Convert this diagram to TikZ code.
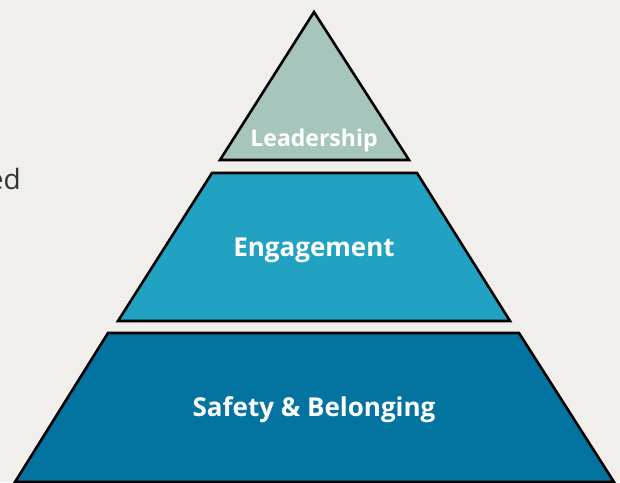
\documentclass[tikz,border=0pt]{standalone}
\usepackage{fontspec}
\setmainfont{Open Sans}
\definecolor{bg}{HTML}{F0EFEC}
\definecolor{topfill}{HTML}{A5C5BD}
\definecolor{midfill}{HTML}{22A2C3}
\definecolor{basefill}{HTML}{03739F}
\definecolor{sidetext}{HTML}{333333}
\begin{document}
\begin{tikzpicture}[x=1pt,y=-1pt,
  tier/.style={draw=black,line width=2.6pt,line join=miter},
  tierlabel/.style={text=white,font=\bfseries\fontsize{26}{30}\selectfont,inner sep=0pt,anchor=base}]
  \fill[bg] (0,0) rectangle (620,482);
  \useasboundingbox (0,0) rectangle (620,482);
  % apex tier
  \coordinate (t1) at (314,12);
  \coordinate (t2) at (409,160);
  \coordinate (t3) at (220,160);
  \draw[tier,fill=topfill] (t1) -- (t2) -- (t3) -- cycle;
  % middle tier
  \coordinate (m1) at (212,173);
  \coordinate (m2) at (417,173);
  \coordinate (m3) at (510,321);
  \coordinate (m4) at (118,321);
  \draw[tier,fill=midfill] (m1) -- (m2) -- (m3) -- (m4) -- cycle;
  % base tier
  \coordinate (b1) at (108,333);
  \coordinate (b2) at (519,333);
  \coordinate (b3) at (614,482);
  \coordinate (b4) at (15,482);
  \draw[tier,fill=basefill] (b1) -- (b2) -- (b3) -- (b4) -- cycle;
  % labels
  \node[tierlabel,font=\bfseries\fontsize{23}{27}\selectfont] (lead) at (314,146) {Leadership};
  \node[tierlabel] (eng) at (314,256.5) {Engagement};
  \node[tierlabel] (safe) at (314,416.5) {Safety \& Belonging};
  \node[anchor=base east,inner sep=0pt,text=sidetext,font=\fontsize{28}{32}\selectfont] (side) at (21,189) {ed};
\end{tikzpicture}
\end{document}
